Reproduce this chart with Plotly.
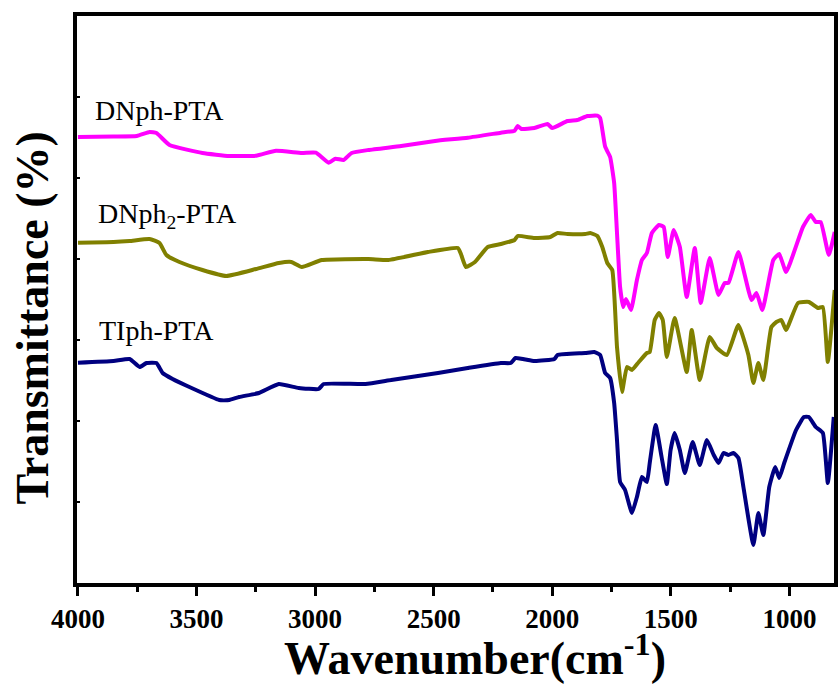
import plotly.graph_objects as go

# ---- data (wavenumber in cm-1, transmittance in arbitrary offset units) ----
mag_wn = [4000,3850,3752,3698,3669,3614,3475,3362,3249,3165,3056,2997,2943,2914,2880,2846,2775,2637,2494,2356,
          2217,2159,2146,2130,2075,2020,2000,1936,1894,1852,1810,1798,1777,1756,1739,1727,1714,1701,1689,1668,
          1643,1622,1601,1580,1550,1530,1513,1488,1462,1433,1399,1374,1336,1299,1273,1257,1215,1160,1139,1114,
          1068,1043,1014,943,910,889,868,834,809]
mag_T = [443,443.5,444,448,447,435,427,424,424.3,429.3,427,427.3,417.3,421.3,420,427,430,434,439,442.3,
         447.3,449.3,454,451,452,456,452,459,460,464,464.3,462,433.3,423,397,347,293,273,281,270,
         300,320,327,347,355,353,323,350,333,283,332,277,322,285,297,297,328,280,287,270,
         320,326,308,353,365,358,358,325,348]

olv_wn = [4000,3850,3782,3698,3656,3627,3572,3475,3375,3249,3153,3100,3056,2972,2775,2691,2524,2398,2385,2364,
          2326,2272,2217,2159,2146,2075,2008,1978,1936,1861,1840,1810,1789,1768,1747,1727,1706,1685,1664,1635,
          1601,1589,1568,1550,1534,1517,1484,1433,1412,1378,1336,1306,1264,1215,1173,1152,1131,1110,1076,1055,
          1034,1014,964,918,880,859,838,809]
olv_T = [337.3,338,339,341,337,325,318,310,304,311,317,318,313,320,321,320,328,332,326,313,
         318,333,336,340,344,342,343,347,346,346,347,344,333,317,310,233,188,213,210,218,
         227,228,260,267,260,223,262,208,250,200,243,232,225,255,225,197,217,200,253,258,
         260,250,277,278,272,273,218,290]

nav_wn = [4000,3850,3782,3740,3711,3669,3643,3601,3530,3404,3362,3320,3237,3153,3069,2985,2964,2788,2679,2482,
          2356,2217,2175,2155,2075,1991,1978,1861,1823,1798,1777,1756,1739,1727,1714,1693,1664,1643,1622,1601,
          1589,1564,1539,1517,1501,1484,1462,1441,1408,1378,1348,1319,1299,1278,1257,1236,1215,1194,1152,1131,
          1110,1085,1060,1043,1022,972,939,918,889,859,838,813]
nav_T = [217.3,219,221,213,217,217,207,201,193,180,180,183,187,196,192,191,196,196,200,207,
         212,217,217,222,219,221,225,227,228,225,207,202,177,140,98,90,67,83,103,98,
         117,155,123,96,130,147,130,107,138,115,140,125,117,127,125,127,122,93,35,67,
         45,93,113,102,117,150,163,163,153,147,97,163]

series_names = ["DNph-PTA", "DNph<sub>2</sub>-PTA", "TIph-PTA"]
series_colors = ["#FF00FF", "#808000", "#000080"]
label_pos = [(3937, 470), (3924, 365), (3920, 250)]

x_ticks = [4000, 3500, 3000, 2500, 2000, 1500, 1000]

SERIF = "Times New Roman, Liberation Serif, serif"

fig = go.Figure()
for wn, T, name, col in zip([mag_wn, olv_wn, nav_wn], [mag_T, olv_T, nav_T], series_names, series_colors):
    fig.add_trace(go.Scatter(x=wn, y=T, mode="lines", name=name,
                             line=dict(color=col, width=4, shape="spline", smoothing=0.4),
                             showlegend=False))

for (lx, ly), name in zip(label_pos, series_names):
    fig.add_annotation(x=lx, y=ly, xref="x", yref="y", text=name, showarrow=False,
                       xanchor="left", yanchor="middle",
                       font=dict(family=SERIF, size=28, color="black"))

fig.add_annotation(x=0.526, y=-0.127, xref="paper", yref="paper",
                   text="<b>Wavenumber(cm<sup>-1</sup>)</b>", showarrow=False,
                   xanchor="center", yanchor="middle",
                   font=dict(family=SERIF, size=46, color="black"))
fig.add_annotation(x=-0.059, y=0.467, xref="paper", yref="paper",
                   text="<b>Transmittance (%)</b>", showarrow=False, textangle=-90,
                   xanchor="center", yanchor="middle",
                   font=dict(family=SERIF, size=46, color="black"))

fig.update_layout(
    width=840, height=686,
    margin=dict(l=77, r=2, t=16, b=103),
    plot_bgcolor="white", paper_bgcolor="white",
    font=dict(family=SERIF, color="black"),
    xaxis=dict(range=[4004, 812], tickvals=x_ticks, ticktext=["<b>%d</b>" % v for v in x_ticks],
               showgrid=False, zeroline=False, showline=True, linecolor="black", linewidth=4,
               mirror=True, ticks="outside", ticklen=9, tickwidth=3, tickcolor="black",
               minor=dict(ticks="outside", ticklen=5, tickwidth=3, tickcolor="black", dtick=250, tick0=0),
               tickfont=dict(family=SERIF, size=27, color="black")),
    yaxis=dict(range=[-3, 564], tick0=-3, dtick=81, showticklabels=False,
               showgrid=False, zeroline=False, showline=True, linecolor="black", linewidth=4,
               mirror=True, ticks="inside", ticklen=3, tickwidth=2, tickcolor="black"),
)

fig.write_html("out.html")
